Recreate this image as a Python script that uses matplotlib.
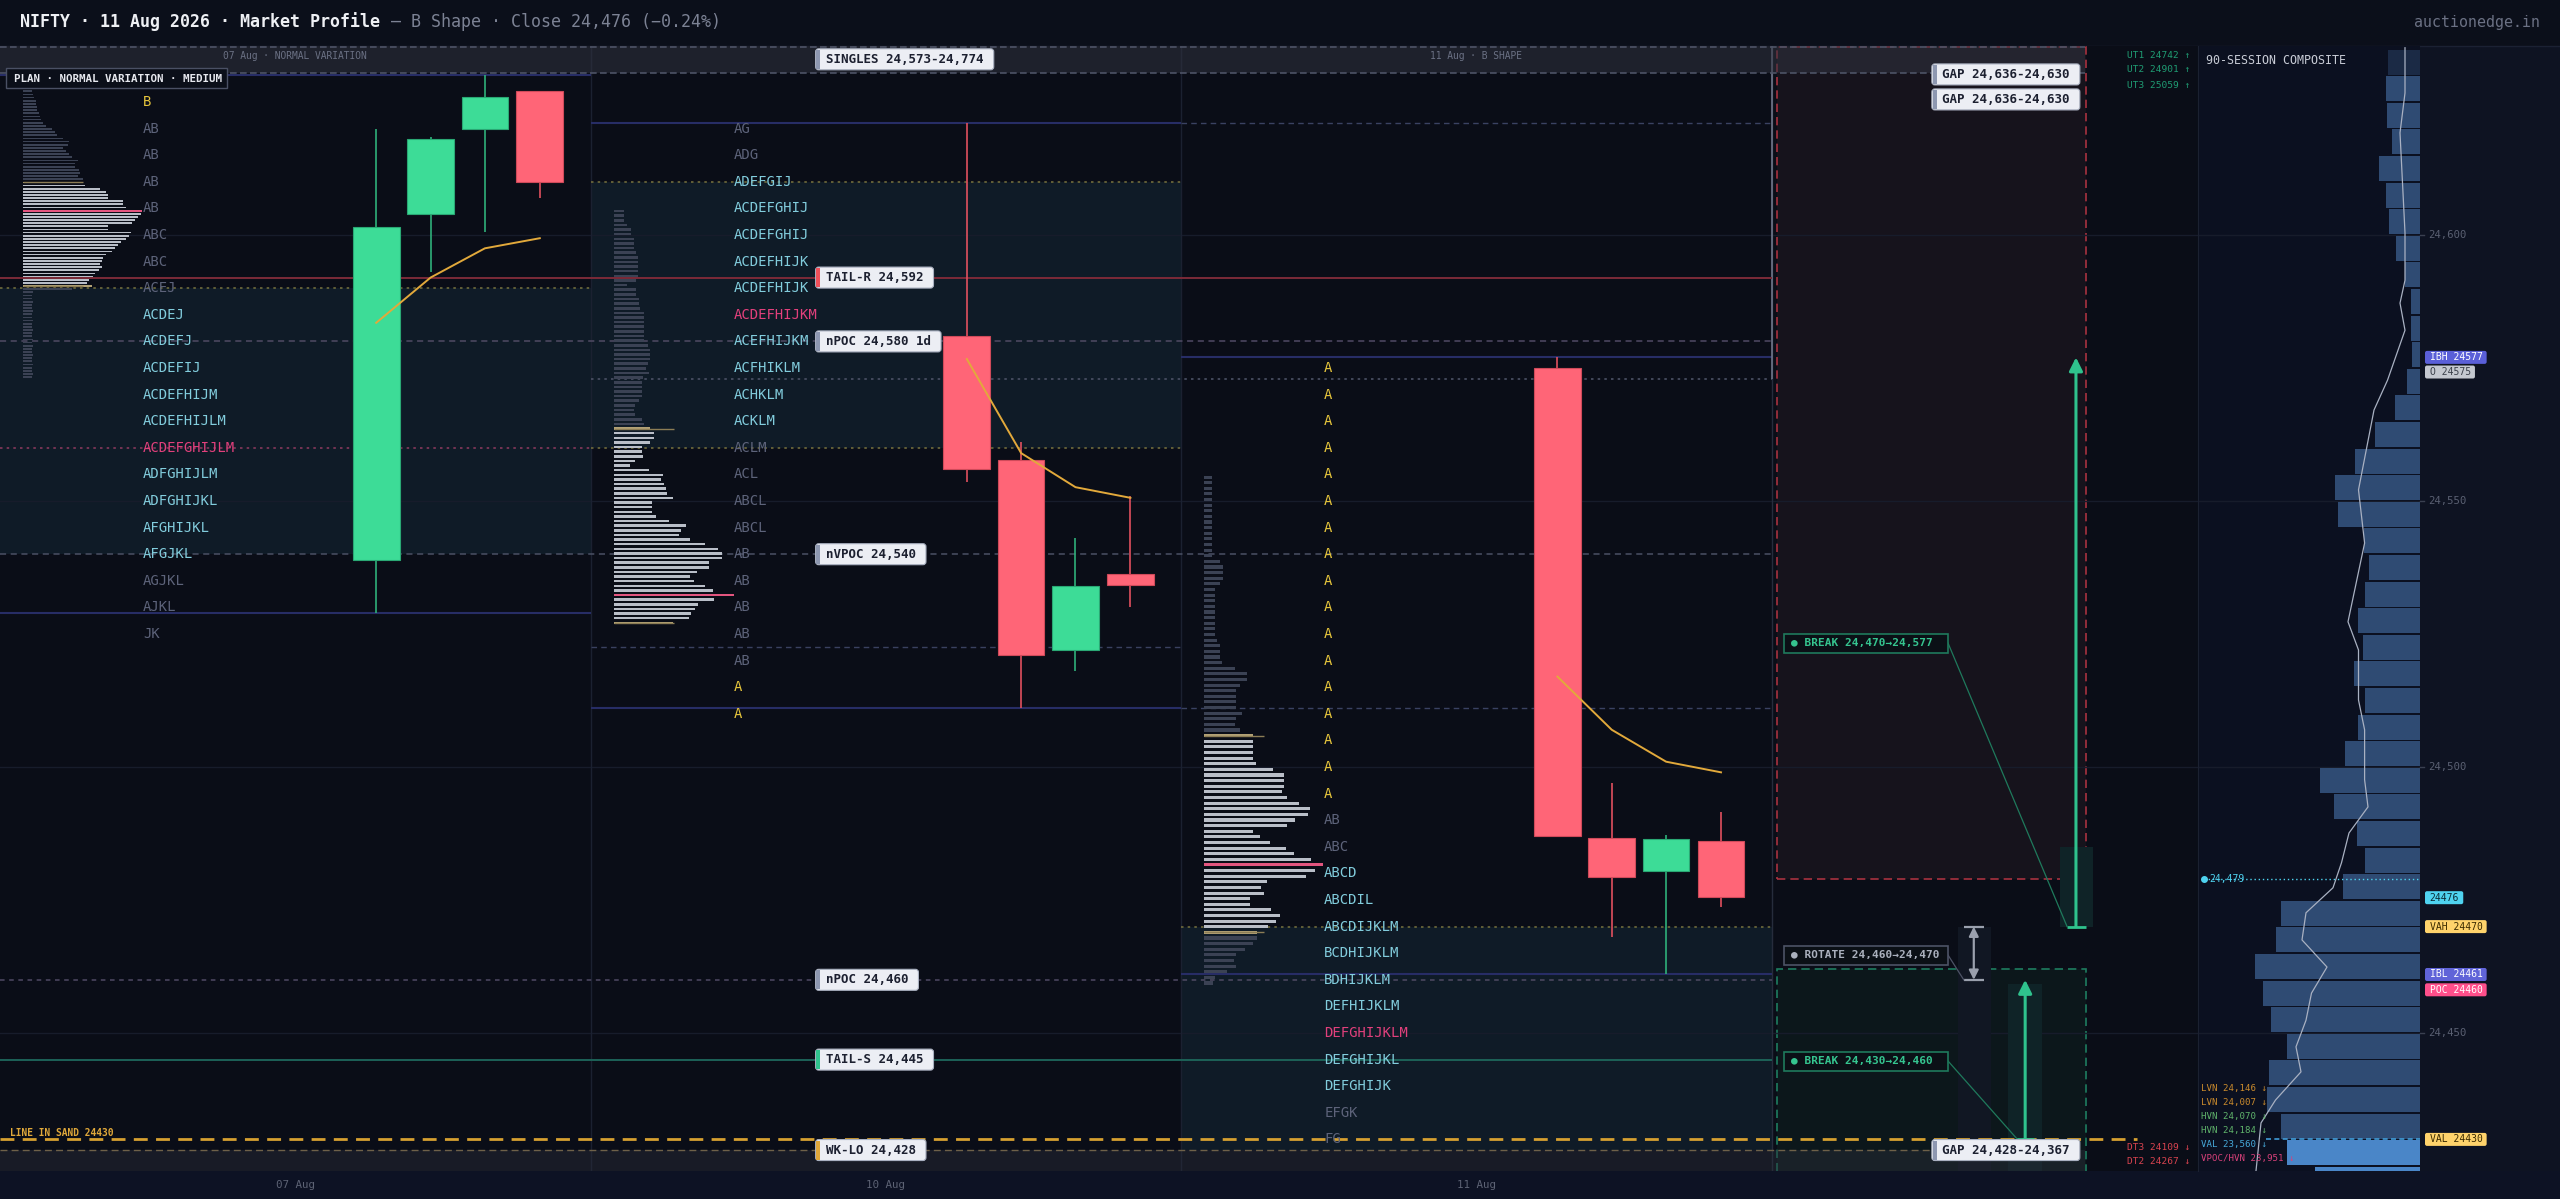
import matplotlib
matplotlib.use("Agg")
import matplotlib.pyplot as plt
import matplotlib.transforms as mtransforms
from matplotlib.lines import Line2D
from matplotlib.patches import Rectangle, FancyBboxPatch
import numpy as np

plt.rcParams["font.family"] = ["DejaVu Sans Mono", "DejaVu Sans"]

# ---------------- values ----------------
session_dates = ["07 Aug", "10 Aug", "11 Aug"]
session_notes = ["07 Aug · NORMAL VARIATION", "", "11 Aug · B SHAPE"]

# four candles per session
candle_open = [24539, 24604, 24620, 24627, 24581, 24557.7, 24522, 24536.3, 24575, 24486.7, 24480.5, 24486]
candle_high = [24620, 24618.5, 24630, 24627, 24621, 24561, 24543, 24551, 24577, 24497, 24487.2, 24491.5]
candle_low = [24529, 24593, 24600.5, 24607, 24553.5, 24511, 24518, 24530, 24486.8, 24468, 24461, 24473.7]
candle_close = [24601.5, 24618, 24626, 24610, 24556, 24521, 24534, 24534.2, 24487, 24479.3, 24486.5, 24475.6]
vwap = [24583.5, 24592, 24597.5, 24599.4, 24576.7, 24559, 24552.6, 24550.6, 24517, 24507, 24501, 24499]

# TPO letters, top row price per session, one row per 5 points
tpo_top = [24625, 24620, 24575]
tpo_0807 = ["B", "AB", "AB", "AB", "AB", "ABC", "ABC", "ACEJ", "ACDEJ", "ACDEFJ", "ACDEFIJ",
            "ACDEFHIJM", "ACDEFHIJLM", "ACDEFGHIJLM", "ADFGHIJLM", "ADFGHIJKL", "AFGHIJKL",
            "AFGJKL", "AGJKL", "AJKL", "JK"]
tpo_0810 = ["AG", "ADG", "ADEFGIJ", "ACDEFGHIJ", "ACDEFGHIJ", "ACDEFHIJK", "ACDEFHIJK",
            "ACDEFHIJKM", "ACEFHIJKM", "ACFHIKLM", "ACHKLM", "ACKLM", "ACLM", "ACL", "ABCL",
            "ABCL", "AB", "AB", "AB", "AB", "AB", "A", "A"]
tpo_0811 = ["A"] * 17 + ["AB", "ABC", "ABCD", "ABCDIL", "ABCDIJKLM", "BCDHIJKLM", "BDHIJKLM",
                         "DEFHIJKLM", "DEFGHIJKLM", "DEFGHIJKL", "DEFGHIJK", "EFGK", "FG"]
tpo_va = [(24540, 24585), (24565, 24610), (24440, 24480)]
tpo_poc = [24560, 24585, 24450]
va_zone = [(24540, 24590), (24560, 24610), (24428, 24470)]
vah_0807, poc_0807 = 24590, 24560
vah_0810, val_0810, ref_0810 = 24610, 24560, 24522.5
vah_0811 = 24470

# per-session volume profiles (bar lengths, top to bottom)
profile_top = [24627.6, 24604.5, 24554.5]
profile_bot = [24573.3, 24527.1, 24459.4]
profile_0807 = ([9, 9, 10, 11, 13, 13, 14, 14, 16, 17, 18, 20, 23, 29, 32, 34, 40, 46, 45, 40,
                 43, 46, 49, 55, 52, 52, 56, 57, 55, 60] + [60] +
                [62, 77, 83, 85, 85, 100, 100, 103, 119, 118, 115, 112, 109, 85, 85, 108, 106,
                 103, 98, 95, 92, 89, 83, 80, 79, 77, 79, 76, 72, 70, 66, 64] + [69] +
                [49, 10, 9, 9, 10, 9, 9, 10, 9, 9, 10, 9, 9, 10, 9, 9, 10, 9, 10, 9, 9, 10, 9, 9,
                 10, 9, 9, 10, 9])
profile_0810 = ([10, 10, 10, 13, 17, 17, 20, 20, 20, 22, 24, 24, 24, 24, 24, 22, 13, 22, 22, 25,
                 25, 26, 30, 30, 30, 30, 30, 30, 30, 34, 36, 36, 36, 34, 32, 35, 29, 28, 28, 28,
                 28, 25, 21, 20, 21, 28, 30] + [36] +
                [40, 40, 36, 28, 28, 29, 21, 16, 35, 49, 47, 50, 52, 53, 59, 38, 38, 38, 42, 55,
                 72, 67, 65, 76, 91, 104, 108, 108, 95, 95, 83, 76, 80, 91, 99, 120, 100, 84, 81,
                 77, 75] + [59])
profile_0811 = ([8] * 15 + [16, 19, 19, 19, 16] + [11] * 9 + [13, 16, 16, 16, 18, 31, 43, 43, 36,
                 32, 32, 32, 32, 38, 32, 31, 36] + [49] +
                [49, 49, 49, 49, 52, 69, 80, 80, 80, 78, 83, 95, 106, 104, 91, 83, 49, 56, 66, 82,
                 90, 107, 119, 111, 102, 63, 57, 60, 46, 46, 67, 76, 72, 64] + [53] +
                [53, 49, 41, 32, 30, 32, 23, 11, 9])
profile_vah_i = [30, 47, 46]
profile_val_i = [63, 89, 81]
profile_poc_i = [39, 83, 69]

# reference levels
singles = (24573, 24774)
tail_r, npoc_1d, nvpoc, npoc, tail_s = 24592, 24580, 24540, 24460, 24445
line_in_sand, wk_lo = 24430, 24428
gap_up = (24630, 24636)
gap_dn = (24367, 24428)
break_up = (24470, 24577)
rotate = (24460, 24470)
break_dn = (24430, 24460)
last_mark, ibl = 24479, 24461
up_targets = [("UT1", 24742), ("UT2", 24901), ("UT3", 25059)]
dn_targets = [("DT3", 24109), ("DT2", 24267)]
grid_prices = [24600, 24550, 24500, 24450]

# 90-session composite
comp_price = [24630, 24625, 24620, 24615, 24610, 24605, 24600, 24595, 24590, 24585, 24580,
              24575, 24570, 24565, 24560, 24555, 24550, 24545, 24540, 24535, 24530, 24525,
              24520, 24515, 24510, 24505, 24500, 24495, 24490, 24485, 24480, 24475, 24470,
              24465, 24460, 24455, 24450, 24445, 24440, 24435, 24430, 24425, 24420]
comp_width = [32, 34, 33, 28, 41, 34, 31.5, 24, 15, 9, 9, 8, 13.5, 25, 45, 65, 85, 82, 56, 51,
              55, 62, 57.5, 66, 55, 62, 75, 100, 86, 63, 55, 77, 139.5, 144, 165, 157, 149, 133,
              151, 153, 139, 133, 105]
comp_line_w = [15, 15, 20, 15, 15, 20, 15, 32.5, 46, 61.5, 55.4, 72, 61.5, 61.5, 55.4, 55.4, 52,
               71, 78.5, 87, 114, 118, 93, 108.5, 114, 124, 119, 144.5, 159, 164]
comp_line_p = [24635.2, 24626.7, 24619.2, 24600.4, 24591.5, 24587.2, 24582.1, 24572.7, 24567.1,
               24552.1, 24542.1, 24527.3, 24522.0, 24512.6, 24507.0, 24497.6, 24492.5, 24487.6,
               24482.0, 24477.3, 24472.6, 24467.5, 24462.4, 24457.5, 24452.4, 24447.4, 24442.7,
               24437.4, 24433.1, 24424.1]
comp_val = 24430
comp_levels = [("LVN", 24146), ("LVN", 24007), ("HVN", 24070), ("HVN", 24184),
               ("VAL", 23560), ("VPOC/HVN", 23951)]
price_tags = [("IBH 24577", 24577, 0), ("O 24575", 24575, 4), ("24476", 24476, 3),
              ("VAH 24470", 24470, 0), ("IBL 24461", 24461, 0), ("POC 24460", 24460, 10),
              ("VAL 24430", 24430, 0)]

# ---------------- layout ----------------
W, H = 2560, 1199
TOP, BOT = 46, 1171
MAIN_R, COMP_R = 2198, 2420
SESSION_PX = 590.6
XMAX = MAIN_R / SESSION_PX
YLO, YHI = 24424.06, 24635.53
PX = mtransforms.Affine2D().scale(1, -1).translate(0, H)

C_GREEN, C_RED = "#3ddc97", "#ff6577"
C_DIM, C_CYAN, C_PINK, C_YEL = "#5d637a", "#82cddd", "#e2407c", "#e6c53c"

fig = plt.figure(figsize=(W / 100, H / 100), dpi=100)
fig.patch.set_facecolor("#0b0f1a")
fig.add_artist(Rectangle((COMP_R, TOP), W - COMP_R, BOT - TOP, fc="#0e1322", ec="none",
                         transform=PX, zorder=-5))
fig.add_artist(Rectangle((0, BOT), W, H - BOT, fc="#0d1224", ec="none", transform=PX, zorder=-5))
fig.add_artist(Line2D([0, W], [TOP, TOP], color="#1b2133", lw=1, transform=PX, zorder=-4))

ax = fig.add_axes([0, 1 - BOT / H, MAIN_R / W, (BOT - TOP) / H])
axc = fig.add_axes([MAIN_R / W, 1 - BOT / H, (COMP_R - MAIN_R) / W, (BOT - TOP) / H])
for a, fc in ((ax, "#0a0d17"), (axc, "#0b1020")):
    a.set_facecolor(fc)
    a.set_xticks([])
    a.set_yticks([])
    for sp in a.spines.values():
        sp.set_visible(False)
    a.set_ylim(YLO, YHI)
ax.set_xlim(0, XMAX)
axc.set_xlim(COMP_R - MAIN_R, 0)
axc.spines["left"].set_visible(True)
axc.spines["left"].set_color("#1b2131")


def to_px(a, x, y):
    d = a.transData.transform((x, y))
    return d[0], H - d[1]


# grid and session frames
for g in grid_prices:
    ax.axhline(g, color="#171c2b", lw=1, zorder=0.8)
    axc.axhline(g, color="#171c2b", lw=1, zorder=0.5)
for s in (1, 2):
    ax.axvline(s, color="#1b2131", lw=1, zorder=0.8)
ax.axvline(3, color="#262c3c", lw=1, zorder=0.8)

for s, (lo, hi) in enumerate(va_zone):
    ax.add_patch(Rectangle((s, lo), 1, hi - lo, fc="#0f1b27", ec="none", zorder=0.5))

# projection boxes
ax.add_patch(Rectangle((3.009, last_mark), 0.523, YHI - 0.25 - last_mark, fc="#16131c",
                       ec="#a8323f", ls=(0, (5, 3)), lw=1.2, zorder=0.6))
ax.add_patch(Rectangle((3.009, YLO - 20), 0.523, ibl + 1 - YLO + 20, fc="#0c171b",
                       ec="#1e7d60", ls=(0, (5, 3)), lw=1.2, zorder=0.6))
ax.add_patch(Rectangle((3.488, break_up[0]), 0.056, 14.9, fc="#0f2327", ec="none", zorder=0.9))
ax.add_patch(Rectangle((3.400, YLO - 20), 0.057, 35 + 20 + YLO - 24424, fc="#0f2327", ec="none",
                       zorder=0.9))
ax.add_patch(Rectangle((3.315, YLO - 20), 0.056, rotate[1] - YLO + 20, fc="#111723", ec="none",
                       zorder=0.9))

# session value-area edges and highs/lows
dot = (0, (1.5, 2.5))
dash = (0, (4, 3))
ax.hlines(vah_0807, 0, 1, colors="#706b3c", linestyles=dot, lw=1.2, zorder=1)
ax.hlines(poc_0807, 0, 1, colors="#85385b", linestyles=dot, lw=1.2, zorder=1)
ax.hlines([vah_0810, val_0810], 1, 2, colors="#706b3c", linestyles=dot, lw=1.2, zorder=1)
ax.hlines(ref_0810, 1, 2, colors="#3a4160", linestyles=dash, lw=1, zorder=1)
ax.hlines(vah_0811, 2, 3, colors="#706b3c", linestyles=dot, lw=1.2, zorder=1)
for s in range(3):
    hi = max(candle_high[4 * s:4 * s + 4])
    lo = min(candle_low[4 * s:4 * s + 4])
    ax.hlines([hi, lo], s, s + 1, colors="#272d66", lw=1.5, zorder=1)
ax.hlines([max(candle_high[4:8]), min(candle_low[4:8])], 2, 3, colors="#3a4262",
          linestyles=dash, lw=1, zorder=1)

# singles box
ax.hlines(singles[0], 1, 3, colors="#4b5165", linestyles=dot, lw=1.2, zorder=1)
ax.vlines(3, singles[0], YHI, colors="#70768a", lw=1.2, zorder=1)

# reference levels
ax.hlines(tail_r, 0, 3, colors="#7c2a38", lw=1.4, zorder=1)
ax.hlines(npoc_1d, 0, 3, colors="#504a64", linestyles=dash, lw=1.1, zorder=1)
ax.hlines(nvpoc, 0, 3, colors="#4a5064", linestyles=dash, lw=1.1, zorder=1)
ax.hlines(npoc, 0, 3, colors="#504a64", linestyles=(0, (3, 3)), lw=1.1, zorder=1)
ax.hlines(tail_s, 0, 3, colors="#1d6258", lw=1.4, zorder=1)
ax.hlines(line_in_sand, 0, 3.618, colors="#d6a030", linestyles=(0, (5, 3)), lw=2, zorder=1.6)
ax.hlines(wk_lo, 0, 3.27, colors="#6e6149", linestyles=(0, (5, 3)), lw=1, zorder=1.6)

# gap zones
ax.add_patch(Rectangle((0, gap_up[0] + 0.5), 3.53, gap_up[1] - gap_up[0] + 5, fc="#30333f",
                       alpha=0.55, ec="none", zorder=1.5))
ax.hlines([gap_up[0] + 0.5, YHI - 0.25], 0, 3.53, colors="#4d5366", linestyles=(0, (4, 2)),
          lw=1.2, zorder=1.6)
ax.add_patch(Rectangle((0, gap_dn[0]), 3.53, gap_dn[1] - gap_dn[0], fc="#2a2e3a", alpha=0.45,
                       ec="none", zorder=1.5))

# volume profiles
for s, prof in enumerate([profile_0807, profile_0810, profile_0811]):
    n = len(prof)
    ys = np.linspace(profile_top[s], profile_bot[s], n)
    step = (profile_top[s] - profile_bot[s]) / (n - 1)
    cols = []
    for i in range(n):
        if i == profile_poc_i[s]:
            cols.append("#e3557f")
        elif i in (profile_vah_i[s], profile_val_i[s]):
            cols.append("#b3a276")
        elif profile_vah_i[s] < i < profile_val_i[s]:
            cols.append("#b9bec8")
        else:
            cols.append("#3b4254")
    x0 = s + 0.039
    ax.barh(ys, np.array(prof) / SESSION_PX, left=x0, height=step * 0.55, color=cols,
            zorder=2)
    for i in (profile_vah_i[s], profile_val_i[s]):
        ax.hlines(ys[i], x0, x0 + 60 / SESSION_PX, colors="#8c7d55", lw=1, zorder=2)

# candles
cand_off = [0.637, 0.729, 0.821, 0.914]
cx = [s + o for s in range(3) for o in cand_off]
is_up = [c >= o for o, c in zip(candle_open, candle_close)]
body_col = [C_GREEN if u else C_RED for u in is_up]
wick_col = ["#2fb07a" if u else "#e0505f" for u in is_up]
ax.vlines(cx, candle_low, candle_high, colors=wick_col, lw=1.2, zorder=2.5)
ax.bar(cx, [abs(c - o) for o, c in zip(candle_open, candle_close)], bottom=
       [min(o, c) for o, c in zip(candle_open, candle_close)], width=0.079, color=body_col,
       edgecolor=[("#2aa874" if u else "#d04a5a") for u in is_up], lw=0.8, zorder=3)
for s in range(3):
    ax.plot(cx[4 * s:4 * s + 4], vwap[4 * s:4 * s + 4], color="#e2a93b", lw=1.4, zorder=3.5)

# TPO letters
for s, rows in enumerate([tpo_0807, tpo_0810, tpo_0811]):
    lo, hi = tpo_va[s]
    for k, row in enumerate(rows):
        p = tpo_top[s] - 5 * k
        if p == tpo_poc[s]:
            col = C_PINK
        elif len(row) == 1:
            col = C_YEL
        elif lo <= p <= hi:
            col = C_CYAN
        else:
            col = C_DIM
        ax.text(s + 0.242, p, row, color=col, fontsize=10, va="center", ha="left", zorder=4)

# arrows
ax.annotate("", xy=(3.515, break_up[1]), xytext=(3.515, break_up[0]),
            arrowprops=dict(arrowstyle="-|>", color="#2fc28d", lw=2.2, mutation_scale=20,
                            shrinkA=0, shrinkB=0), zorder=4)
ax.hlines(break_up[0], 3.50, 3.532, colors="#2fc28d", lw=2, zorder=4)
ax.annotate("", xy=(3.429, break_dn[1]), xytext=(3.429, break_dn[0]),
            arrowprops=dict(arrowstyle="-|>", color="#2fc28d", lw=2.2, mutation_scale=20,
                            shrinkA=0, shrinkB=0), zorder=4)
ax.hlines(break_dn[0], 3.414, 3.444, colors="#2fc28d", lw=2, zorder=4)
ax.annotate("", xy=(3.342, rotate[0]), xytext=(3.342, rotate[1]),
            arrowprops=dict(arrowstyle="<|-|>", color="#9aa0ad", lw=1.6, mutation_scale=14,
                            shrinkA=0, shrinkB=0), zorder=4)
ax.hlines(list(rotate), 3.325, 3.359, colors="#9aa0ad", lw=1.6, zorder=4)

# composite profile
comp_cols = ["#4a86c8" if p < comp_val else "#2f4b73" for p in comp_price]
bars = axc.barh(np.array(comp_price) + 2.5, comp_width, height=4.7, left=0, color=comp_cols,
                zorder=1)
bars[0].set_alpha(0.45)
axc.plot(comp_line_w, comp_line_p, color="#a9b1c2", lw=0.9, zorder=2)
axc.hlines(last_mark, 216, 0, colors="#4fd3f0", linestyles=(0, (1, 2)), lw=1, zorder=3)
axc.plot(216, last_mark, "o", ms=4, color="#4fd3f0", zorder=3)
axc.text(211, last_mark, f"{last_mark:,}", color="#4fd3f0", fontsize=7, va="center", zorder=3)
axc.hlines(comp_val, 154, 0, colors="#3f9bd6", linestyles=(0, (3, 2)), lw=1.2, zorder=3)

# ---------------- labels in canvas pixels ----------------


def level_tag(x, y, text, accent):
    w, h = len(text) * 7.53 + 20, 21
    fig.add_artist(FancyBboxPatch((x, y - h / 2), w, h, boxstyle="round,pad=0,rounding_size=3",
                                  fc="#eceef4", ec="#a9b0c0", lw=0.8, transform=PX, zorder=6))
    fig.add_artist(Rectangle((x + 0.8, y - h / 2 + 1), 4, h - 2, fc=accent, ec="none",
                             transform=PX, zorder=7))
    fig.text(x + 10, y, text, transform=PX, fontsize=9, fontweight="bold", color="#1c2030",
             va="center", ha="left", zorder=8)


def move_tag(x0, x1, y, text, ec, fc_text):
    fig.add_artist(Rectangle((x0, y - 9.5), x1 - x0, 19, fc="#0b1016", ec=ec, lw=1.2,
                             transform=PX, zorder=6))
    fig.text(x0 + 7, y, text, transform=PX, fontsize=8, fontweight="bold", color=fc_text,
             va="center", ha="left", zorder=7)


def price_tag(y, text, bg, fg):
    w, h = len(text) * 5.85 + 9, 13
    fig.add_artist(FancyBboxPatch((2425, y - h / 2), w, h, boxstyle="round,pad=0,rounding_size=2",
                                  fc=bg, ec="none", transform=PX, zorder=6))
    fig.text(2429.5, y, text, transform=PX, fontsize=7, color=fg, va="center", ha="left",
             zorder=7)


lx = to_px(ax, 1.381, YHI)[0]
level_tag(lx, to_px(ax, 0, min(sum(singles) / 2, YHI - 2.5))[1],
          f"SINGLES {singles[0]:,}-{singles[1]:,}", "#8d97b0")
level_tag(lx, to_px(ax, 0, tail_r)[1], f"TAIL-R {tail_r:,}", "#f0505a")
level_tag(lx, to_px(ax, 0, npoc_1d)[1], f"nPOC {npoc_1d:,} 1d", "#8d97b0")
level_tag(lx, to_px(ax, 0, nvpoc)[1], f"nVPOC {nvpoc:,}", "#8d97b0")
level_tag(lx, to_px(ax, 0, npoc)[1], f"nPOC {npoc:,}", "#8d97b0")
level_tag(lx, to_px(ax, 0, tail_s)[1], f"TAIL-S {tail_s:,}", "#2fc28d")
level_tag(lx, to_px(ax, 0, wk_lo)[1], f"WK-LO {wk_lo:,}", "#e0a83a")

gx = to_px(ax, 3.271, YHI)[0]
gy = to_px(ax, 0, gap_up[0])[1] - 1
level_tag(gx, gy, f"GAP {gap_up[1]:,}-{gap_up[0]:,}", "#8d97b0")
level_tag(gx, gy + 25, f"GAP {gap_up[1]:,}-{gap_up[0]:,}", "#8d97b0")
level_tag(gx, to_px(ax, 0, gap_dn[1])[1], f"GAP {gap_dn[1]:,}-{gap_dn[0]:,}", "#8d97b0")

# move labels with leader lines
moves = [(643, f"● BREAK {break_up[0]:,}→{break_up[1]:,}", "#1f7a5c", "#35c48f",
          (3.50, break_up[0])),
         (955, f"● ROTATE {rotate[0]:,}→{rotate[1]:,}", "#4d5366", "#aab0bd",
          (3.325, rotate[0])),
         (1061, f"● BREAK {break_dn[0]:,}→{break_dn[1]:,}", "#1f7a5c", "#35c48f",
          (3.416, break_dn[0]))]
for y, text, ec, tc, tip in moves:
    move_tag(1784, 1948, y, text, ec, tc)
    tx, ty = to_px(ax, *tip)
    fig.add_artist(Line2D([1948, tx], [y, ty], color=ec, lw=0.9, transform=PX, zorder=5))

# plan box and session notes
fig.add_artist(Rectangle((6, 68), 221, 20, fc="#0b0f19", ec="#4a5064", lw=1, transform=PX,
                         zorder=6))
fig.text(14, 78.5, "PLAN · NORMAL VARIATION · MEDIUM", transform=PX, fontsize=7.8,
         fontweight="bold", color="#e6e8ee", va="center", zorder=7)
for s, note in enumerate(session_notes):
    if note:
        fig.text(to_px(ax, s + 0.5, YHI)[0], 56, note, transform=PX, fontsize=6.9,
                 color="#6b7184", ha="center", va="center", zorder=7)
for s, d in enumerate(session_dates):
    fig.text(to_px(ax, s + 0.5, YHI)[0], 1185, d, transform=PX, fontsize=7.8, color="#5d6375",
             ha="center", va="center", zorder=7)
fig.text(10, 1133, f"LINE IN SAND {line_in_sand}", transform=PX, fontsize=6.9,
         fontweight="bold", color="#e0a83a", va="center", zorder=7)

# targets
for k, (name, v) in enumerate(up_targets):
    fig.text(2190, 55 + 15 * k, f"{name} {v} ↑", transform=PX, fontsize=6.8, color="#1f9c73",
             ha="right", va="center", zorder=7)
for k, (name, v) in enumerate(dn_targets):
    fig.text(2190, 1147 + 15 * k, f"{name} {v} ↓", transform=PX, fontsize=6.8, color="#d8434f",
             ha="right", va="center", zorder=7)
lvl_col = {"LVN": "#c98a2c", "HVN": "#5fb36b", "VAL": "#46a8d8", "VPOC/HVN": "#d9417a"}
for k, (name, v) in enumerate(comp_levels):
    fig.text(2201, 1088 + 14 * k, f"{name} {v:,} ↓", transform=PX, fontsize=6.6,
             color=lvl_col[name], ha="left", va="center", zorder=7)

# composite header and axis
fig.text(2206, 60, "90-SESSION COMPOSITE", transform=PX, fontsize=8.4, color="#c8ccd6",
         va="center", zorder=7)
for g in grid_prices:
    gyp = to_px(axc, 0, g)[1]
    fig.add_artist(Line2D([2420, 2424], [gyp, gyp], color="#3a4050", lw=1, transform=PX))
    fig.text(2428, gyp, f"{g:,}", transform=PX, fontsize=7.7, color="#5a6072", va="center",
             zorder=7)
tag_style = {"IBH": ("#5a5fd8", "#ffffff"), "O": ("#c4c8d0", "#3a3f4a"),
             "VAH": ("#ffd36b", "#3a2a00"), "IBL": ("#6064d8", "#ffffff"),
             "POC": ("#ff4f8b", "#ffffff"), "VAL": ("#ffd36b", "#3a2a00")}
for text, v, dy in price_tags:
    bg, fg = tag_style.get(text.split()[0], ("#4fd3f0", "#0b2a35"))
    price_tag(to_px(axc, 0, v)[1] + dy, text, bg, fg)

# title
fig.text(20, 22, "NIFTY · 11 Aug 2026 · Market Profile", transform=PX, fontsize=12,
         fontweight="bold", color="#eef0f4", va="center", zorder=7)
fig.text(20 + 36 * 10.03, 22, " — B Shape · Close 24,476 (−0.24%)", transform=PX, fontsize=12,
         color="#7c8294", va="center", zorder=7)
fig.text(2540, 22, "auctionedge.in", transform=PX, fontsize=10.7, color="#6b7184", ha="right",
         va="center", zorder=7)

fig.savefig("out.png", dpi=100, facecolor=fig.get_facecolor())
